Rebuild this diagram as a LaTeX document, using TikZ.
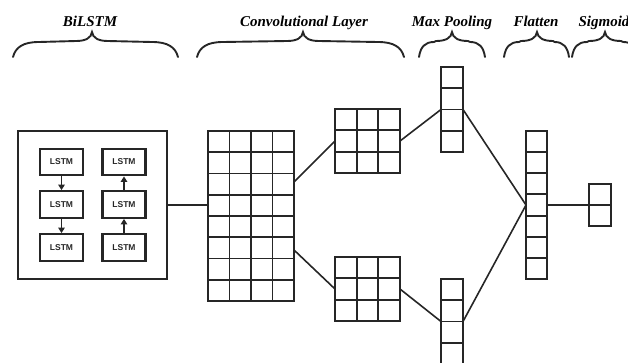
\documentclass[tikz,border=0pt]{standalone}
\usepackage{fontspec}
\setmainfont{Liberation Serif}
\newfontfamily\lstmfont{Liberation Sans}
\usetikzlibrary{arrows.meta,calc}

\begin{document}
\begin{tikzpicture}[x=1pt, y=-1pt, line join=miter]

\clip (0,0) rectangle (628,362);

\tikzset{title/.style={anchor=base, inner sep=0pt, font=\fontsize{15}{18}\selectfont\bfseries\itshape}}
\tikzset{brace/.style={line width=1.9pt, black!85, line cap=round}}
\tikzset{lstm/.style={draw, line width=2.3pt, black!85, minimum width=43, minimum height=26.5, inner sep=0pt, font=\lstmfont\bfseries\fontsize{8.5}{10}\selectfont}}
\tikzset{block/.style={draw, line width=1.9pt, black!85, inner sep=0pt, outer sep=0pt}}
\tikzset{cell/.style={line width=1.9pt, black!85}}

% layer titles
\node[title] (tbi) at (90,26) {BiLSTM};
\node[title] (tconv) at (304,26) {Convolutional Layer};
\node[title] (tpool) at (452,26) {Max Pooling};
\node[title] (tflat) at (536,26) {Flatten};
\node[title] (tsig) at (604,26) {Sigmoid};

% curly braces under the titles
\foreach \xa/\xt/\xb in {13/92/178, 197/303/404, 419/452/485, 504/537/569, 572/605/638} {
  \pgfmathsetmacro\curvA{min(26,0.45*(\xt-\xa))}
  \pgfmathsetmacro\tipA{min(16,0.5*(\xt-\xa))}
  \pgfmathsetmacro\curvB{min(26,0.45*(\xb-\xt))}
  \pgfmathsetmacro\tipB{min(16,0.5*(\xb-\xt))}
  \draw[brace] (\xa,57) .. controls (\xa+0.1*\curvA,47) and (\xa+0.4*\curvA,42) .. (\xa+\curvA,42)
    -- (\xt-\tipA,41) .. controls (\xt-0.4*\tipA,41) and (\xt-0.05*\tipA,38) .. (\xt,32)
    .. controls (\xt+0.05*\tipB,38) and (\xt+0.4*\tipB,41) .. (\xt+\tipB,41)
    -- (\xb-\curvB,42) .. controls (\xb-0.4*\curvB,42) and (\xb-0.1*\curvB,47) .. (\xb,57);
}

% BiLSTM block
\node[block, line width=1.7pt, minimum width=149, minimum height=148] (bilstm) at (92.5,205) {};
\node[lstm] (l1) at (61.5,162) {LSTM};
\node[lstm] (l2) at (61.5,204.5) {LSTM};
\node[lstm] (l3) at (61.5,247.5) {LSTM};
\node[lstm] (r1) at (124,162) {LSTM};
\node[lstm] (r2) at (124,204.5) {LSTM};
\node[lstm] (r3) at (124,247.5) {LSTM};

\tikzset{mystyle/.style={-{Triangle[width=6.5pt,length=5.5pt]}, line width=1.8pt, black!85}}
\path (l1) edge [mystyle] (l2);
\path (l2) edge [mystyle] (l3);
\path (r3) edge [mystyle] (r2);
\path (r2) edge [mystyle] (r1);

% feature maps
\node[block, minimum width=86, minimum height=170] (conv) at (251,216) {};
\node[block, minimum width=65, minimum height=64] (convA) at (367.5,141) {};
\node[block, minimum width=65, minimum height=64] (convB) at (367.5,289) {};
\node[block, minimum width=22, minimum height=85] (poolA) at (452,109.5) {};
\node[block, minimum width=22, minimum height=85] (poolB) at (452,321.5) {};
\node[block, minimum width=21, minimum height=148] (flat) at (536.5,205) {};
\node[block, minimum width=22, minimum height=42] (sig) at (600,205) {};

\foreach \b/\c/\r in {conv/4/8, convA/3/3, convB/3/3, poolA/1/4, poolB/1/4, flat/1/7, sig/1/2} {
  \foreach \i in {0,...,\c}
    \draw[cell] ($(\b.north west)!\i/\c!(\b.north east)$) -- ($(\b.south west)!\i/\c!(\b.south east)$);
  \foreach \j in {0,...,\r}
    \draw[cell] ($(\b.north west)!\j/\r!(\b.south west)$) -- ($(\b.north east)!\j/\r!(\b.south east)$);
}

\tikzset{mystyle/.style={line width=1.6pt, black!85}}
\draw[mystyle] (bilstm.east) -- (bilstm.east -| conv.west);
\draw[mystyle] ($(conv.north east)!0.3!(conv.south east)$) -- (convA.west);
\draw[mystyle] ($(conv.north east)!0.7!(conv.south east)$) -- (convB.west);
\draw[mystyle] (convA.east) -- (poolA.west);
\draw[mystyle] (convB.east) -- (poolB.west);
\draw[mystyle] (poolA.east) -- (flat.west);
\draw[mystyle] (poolB.east) -- (flat.west);
\draw[mystyle] (flat.east) -- (sig.west);
\end{tikzpicture}
\end{document}
